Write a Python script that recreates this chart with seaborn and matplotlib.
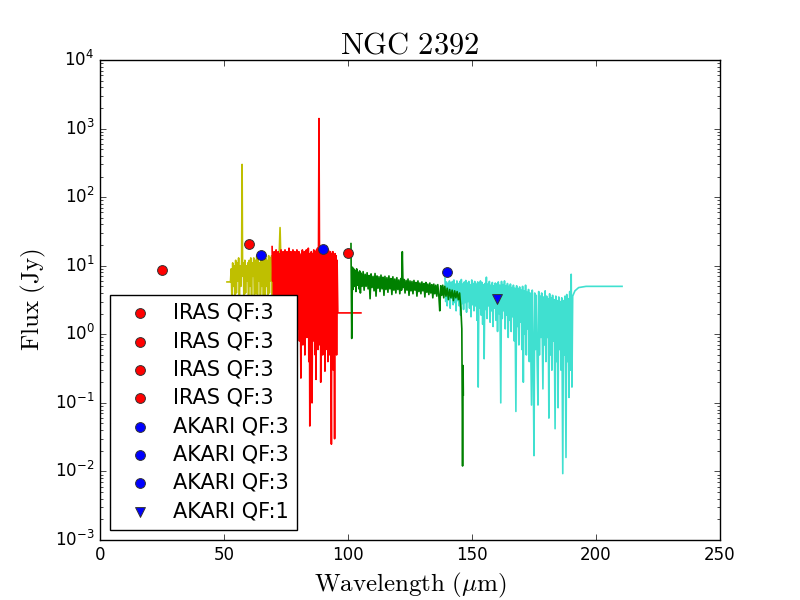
import matplotlib
matplotlib.use('Agg')
import matplotlib.pyplot as plt
import seaborn as sns

# spectral segments, (wavelength [micron], flux [Jy])
yellow = [(51.2, 5.8), (52.6, 5.8), (52.9, 9), (53.2, 3), (53.5, 11), (53.8, 5), (54.1, 10),
          (54.4, 2.5), (54.7, 12), (55.0, 4), (55.3, 11), (55.6, 6), (55.9, 13), (56.2, 3),
          (56.5, 10), (56.8, 5), (57.1, 12), (57.3, 300), (57.5, 7), (57.8, 11), (58.1, 2),
          (58.4, 12), (58.7, 4), (59.0, 10), (59.3, 6), (59.6, 11), (59.9, 2.5), (60.2, 12),
          (60.5, 5), (60.8, 13), (61.1, 3), (61.4, 11), (61.7, 7), (62.0, 13), (62.3, 2),
          (62.6, 12), (62.9, 4), (63.2, 14), (63.5, 3), (63.8, 12), (64.1, 6), (64.4, 11),
          (64.7, 2), (65.0, 13), (65.3, 5), (65.6, 14), (65.9, 3), (66.2, 12), (66.5, 1.5),
          (66.8, 13), (67.1, 5), (67.4, 12), (67.7, 3), (68.0, 14), (68.3, 4), (68.6, 13),
          (68.9, 6), (69.2, 14), (69.5, 2), (69.8, 12), (70.1, 5), (70.4, 13), (70.7, 3),
          (71.0, 14), (71.3, 4), (71.6, 12), (71.9, 6), (72.2, 13), (72.6, 36), (73.0, 10)]

red = [(69.4, 19), (69.6, 6), (69.8, 15), (70.0, 3), (70.2, 16), (70.4, 8), (70.6, 14),
       (70.8, 2), (71.0, 17), (71.2, 5), (71.4, 13), (71.6, 3), (71.8, 16), (72.0, 7),
       (72.2, 15), (72.4, 1.5), (72.6, 14), (72.8, 4), (73.0, 17), (73.2, 2), (73.4, 15),
       (73.6, 6), (73.8, 16), (74.0, 1.2), (74.2, 14), (74.4, 3), (74.6, 17), (74.8, 5),
       (75.0, 15), (75.2, 0.9), (75.4, 16), (75.6, 2.5), (75.8, 14), (76.0, 4), (76.2, 18),
       (76.4, 1.5), (76.6, 15), (76.8, 3), (77.0, 16), (77.2, 0.7), (77.4, 14), (77.6, 2),
       (77.8, 17), (78.0, 4), (78.2, 15), (78.4, 1.0), (78.6, 16), (78.8, 2.5), (79.0, 14),
       (79.2, 0.6), (79.4, 17), (79.6, 3), (79.8, 15), (80.0, 1.2), (80.2, 16), (80.4, 0.8),
       (80.6, 14), (80.8, 2), (81.0, 0.23), (81.2, 15), (81.4, 1.5), (81.6, 17), (81.8, 0.7),
       (82.0, 15), (82.2, 2.5), (82.4, 16), (82.6, 0.5), (82.8, 14), (83.0, 1.5), (83.2, 17),
       (83.4, 0.9), (83.6, 15), (83.8, 2), (84.0, 18), (84.2, 0.4), (84.4, 15), (84.6, 0.046),
       (84.8, 14), (85.0, 1.2), (85.2, 16), (85.5, 0.1), (85.8, 15), (86.0, 0.8), (86.2, 17),
       (86.4, 1.5), (86.6, 16), (86.8, 0.5), (87.0, 15), (87.1, 0.22), (87.3, 17), (87.5, 1.0),
       (87.7, 18), (87.9, 0.6), (88.1, 16), (88.3, 1400), (88.5, 15), (88.7, 0.7), (88.9, 17),
       (89.0, 0.2), (89.2, 16), (89.4, 1.2), (89.6, 17), (89.8, 0.5), (90.0, 15), (90.2, 0.9),
       (90.4, 16), (90.7, 0.29), (90.9, 18), (91.1, 0.6), (91.3, 15), (91.5, 1.4), (91.7, 16),
       (91.9, 0.4), (92.1, 17), (92.3, 0.8), (92.5, 15), (92.7, 0.5), (92.9, 16), (93.1, 0.9),
       (93.3, 0.025), (93.5, 15), (93.7, 0.6), (93.9, 16), (94.1, 0.3), (94.3, 14), (94.6, 0.03),
       (94.8, 15), (95.0, 0.7), (95.2, 14), (95.4, 0.5), (95.6, 12), (95.9, 2.05), (105.2, 2.05)]

green = [(101.2, 21), (101.5, 0.87), (101.8, 9.5), (102.0, 4.5), (102.3, 9), (102.6, 5),
         (102.9, 8.5), (103.2, 4.2), (103.5, 9), (103.8, 5.2), (104.1, 8), (104.4, 4.6),
         (104.7, 8.4), (105.0, 4), (105.3, 7.8), (105.7, 5), (106.1, 8.2), (106.5, 4.4),
         (106.9, 7.5), (107.3, 5), (107.7, 7.9), (108.1, 4.6), (108.5, 7.2), (108.9, 3.3),
         (109.3, 7.6), (109.7, 4.8), (110.1, 7.0), (110.5, 4.3), (110.9, 7.7), (111.3, 3.6),
         (111.7, 7.1), (112.1, 4.7), (112.5, 6.9), (112.9, 4.2), (113.3, 7.3), (113.7, 4.6),
         (114.1, 6.8), (114.5, 3.7), (114.9, 7.0), (115.3, 4.5), (115.7, 6.7), (116.1, 4.1),
         (116.5, 7.1), (116.9, 4.6), (117.3, 6.5), (117.7, 3.8), (118.1, 6.9), (118.5, 4.4),
         (118.9, 6.4), (119.3, 4.0), (119.7, 6.7), (120.1, 4.5), (120.5, 6.2), (120.9, 3.9),
         (121.3, 6.5), (121.6, 4.4), (121.9, 16), (122.2, 4.8), (122.6, 6.3), (123.0, 4.0),
         (123.4, 6.1), (123.8, 4.4), (124.2, 6.4), (124.6, 3.7), (125.0, 6.0), (125.4, 4.3),
         (125.8, 5.9), (126.2, 3.9), (126.6, 6.1), (127.0, 4.4), (127.4, 5.7), (127.8, 3.6),
         (128.2, 6.0), (128.6, 4.2), (129.0, 5.6), (129.4, 3.9), (129.8, 5.8), (130.2, 4.3),
         (130.6, 5.5), (131.0, 3.5), (131.4, 5.7), (131.8, 4.1), (132.2, 5.4), (132.6, 3.8),
         (133.0, 5.6), (133.4, 4.0), (133.8, 5.3), (134.2, 3.4), (134.6, 5.4), (135.0, 3.9),
         (135.4, 5.2), (135.8, 3.6), (136.2, 5.3), (136.6, 3.8), (137.0, 2.2), (137.4, 5.1),
         (137.8, 3.7), (138.2, 5.2), (138.6, 3.4), (139.0, 5.0), (139.5, 3.6), (140.0, 4.7),
         (140.5, 3.2), (141.0, 4.5), (141.5, 3.4), (142.0, 4.4), (142.5, 3.1), (143.0, 4.3),
         (143.5, 3.4), (144.0, 4.2), (144.5, 3.2), (145.0, 4.0), (145.5, 2.4), (145.9, 1.2),
         (146.2, 0.012), (146.4, 0.35), (146.5, 0.13)]

cyan = [(139.1, 6.6), (139.4, 3.0), (139.7, 5.8), (140.0, 2.6), (140.3, 5.5), (140.6, 3.3),
        (140.9, 6.0), (141.2, 2.4), (141.5, 5.6), (141.8, 3.4), (142.1, 5.9), (142.4, 2.7),
        (142.7, 6.2), (143.0, 2.9), (143.3, 5.4), (143.6, 2.2), (143.9, 6.0), (144.2, 3.1),
        (144.5, 5.5), (144.8, 2.6), (145.1, 5.9), (145.4, 1.9), (145.7, 6.3), (146.0, 2.8),
        (146.3, 5.4), (146.6, 2.3), (146.9, 5.8), (147.2, 2.9), (147.5, 6.1), (147.8, 2.1),
        (148.1, 5.6), (148.4, 3.0), (148.7, 5.9), (149.0, 2.4), (149.3, 5.3), (149.6, 1.8),
        (149.9, 6.2), (150.2, 2.7), (150.5, 5.5), (150.8, 2.2), (151.1, 5.9), (151.4, 2.6),
        (151.7, 5.4), (152.0, 1.6), (152.3, 5.8), (152.5, 0.17), (152.8, 5.6), (153.1, 2.4),
        (153.4, 6.0), (153.7, 1.9), (154.0, 5.7), (154.3, 1.4), (154.6, 5.3), (154.9, 0.44),
        (155.2, 5.5), (155.5, 2.3), (155.8, 6.8), (156.1, 1.7), (156.4, 5.4), (156.7, 2.6),
        (157.0, 5.9), (157.3, 1.5), (157.6, 5.2), (157.9, 2.2), (158.2, 5.7), (158.5, 1.3),
        (158.8, 5.1), (159.1, 2.4), (159.4, 5.6), (159.7, 1.6), (160.0, 5.4), (160.3, 1.1),
        (160.6, 5.8), (160.9, 2.0), (161.2, 5.2), (161.6, 0.1), (161.9, 5.9), (162.2, 1.7),
        (162.5, 5.3), (162.8, 2.2), (163.1, 6.0), (163.4, 1.2), (163.7, 5.1), (164.0, 1.9),
        (164.3, 5.5), (164.6, 0.9), (164.9, 5.0), (165.2, 1.6), (165.5, 5.4), (165.8, 1.1),
        (166.1, 4.8), (166.4, 1.8), (166.7, 5.2), (167.0, 0.8), (167.3, 4.7), (167.7, 0.075),
        (168.0, 5.1), (168.3, 1.3), (168.6, 4.6), (168.9, 0.7), (169.2, 4.9), (169.5, 1.5),
        (169.8, 4.4), (170.1, 0.6), (170.4, 5.0), (170.7, 0.2), (171.0, 4.3), (171.3, 1.0),
        (171.6, 5.2), (171.9, 0.5), (172.2, 4.1), (172.5, 1.2), (172.8, 4.5), (173.1, 0.4),
        (173.4, 4.0), (174.0, 0.093), (174.3, 4.4), (174.6, 0.8), (175.0, 0.017), (175.3, 4.0),
        (175.6, 0.6), (175.9, 3.7), (176.3, 0.35), (176.6, 0.093), (176.9, 4.2), (177.2, 0.5),
        (177.5, 3.6), (177.8, 0.9), (178.1, 4.0), (178.6, 0.16), (178.9, 3.5), (179.2, 0.7),
        (179.5, 4.3), (179.8, 0.4), (180.1, 3.6), (180.4, 0.9), (180.7, 3.3), (181.0, 0.06),
        (181.3, 3.9), (181.6, 0.5), (181.9, 3.4), (182.2, 0.3), (182.5, 3.7), (182.8, 0.8),
        (183.1, 3.2), (183.5, 0.042), (183.8, 3.6), (184.1, 0.4), (184.4, 3.1), (184.7, 0.085),
        (185.0, 3.5), (185.3, 0.6), (185.6, 3.0), (185.9, 0.3), (186.2, 3.4), (186.6, 0.0093),
        (186.9, 3.1), (187.2, 0.5), (187.5, 3.6), (187.9, 0.016), (188.2, 3.8), (188.5, 0.4),
        (188.8, 3.3), (189.1, 0.12), (189.4, 4.2), (189.7, 0.3), (190.0, 7.5), (190.3, 0.17),
        (190.6, 3.6), (191.5, 4.3), (193.0, 4.8), (196.0, 5.0), (200.0, 5.0), (210.5, 5.0)]

# photometry
iras_wl = [12, 25, 60, 100]
iras_flux = [1.0, 8.7, 20.5, 15.5]
akari_wl = [65, 90, 140, 160]
akari_flux = [14.5, 17.8, 8.0, 3.3]
akari_qf = [3, 3, 3, 1]

plt.style.use('classic')
plt.rcParams['figure.facecolor'] = 'white'
plt.rcParams['savefig.facecolor'] = 'white'
plt.rcParams['mathtext.fontset'] = 'cm'

fig, ax = plt.subplots(figsize=(8, 6), dpi=100)

# order matters: red over yellow, green over cyan
for seg, col in [(yellow, 'y'), (red, 'r'), (cyan, 'turquoise'), (green, 'g')]:
    wl, fl = zip(*seg)
    sns.lineplot(x=list(wl), y=list(fl), sort=False, estimator=None, color=col, lw=1.2, ax=ax)

for wl, fl in zip(iras_wl, iras_flux):
    sns.scatterplot(x=[wl], y=[fl], color='r', marker='o', s=50, edgecolor='0.2',
                    linewidth=0.7, label='IRAS QF:3', zorder=5, ax=ax)
for wl, fl, qf in zip(akari_wl, akari_flux, akari_qf):
    sns.scatterplot(x=[wl], y=[fl], color='b', marker='o' if qf == 3 else 'v', s=50,
                    edgecolor='0.2', linewidth=0.7, label='AKARI QF:%d' % qf, zorder=5, ax=ax)

ax.set_yscale('log')
ax.set_xlim(0, 250)
ax.set_ylim(1e-3, 1e4)
ax.set_title(r'$\mathrm{NGC\ 2392}$', fontsize=22)
ax.set_xlabel(r'$\mathrm{Wavelength\ (\mu m)}$', fontsize=18)
ax.set_ylabel(r'$\mathrm{Flux\ (Jy)}$', fontsize=18)
ax.legend(loc='lower left', scatterpoints=1, fontsize=15, fancybox=False,
          handletextpad=0.6, labelspacing=0.4)

fig.savefig('out.png', dpi=100)
